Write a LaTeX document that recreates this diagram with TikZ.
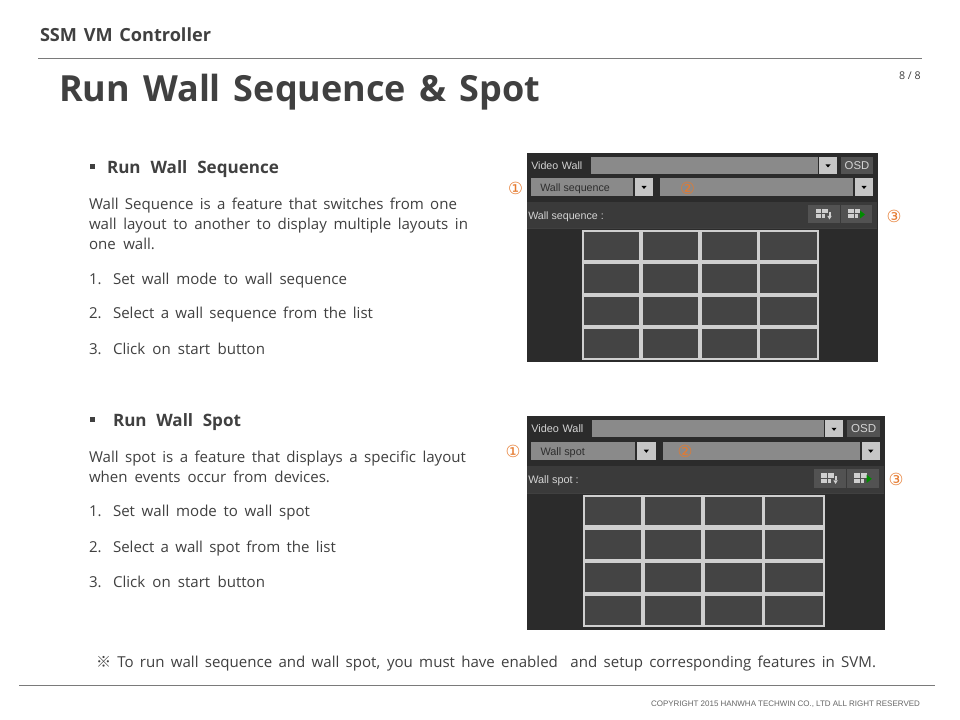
\documentclass[tikz,border=0pt]{standalone}
\usepackage{fontspec}
\setmainfont{Open Sans}
\newfontfamily\symfont{DejaVu Sans}
\newfontfamily\cjkfont{Noto Sans CJK KR}
\newfontfamily\smallfont{Liberation Sans}
\definecolor{ink}{HTML}{404040}
\definecolor{rulec}{HTML}{7A7A7A}
\definecolor{mark}{HTML}{E67A2E}
\definecolor{uipanel}{HTML}{2B2B2B}
\definecolor{uibar}{HTML}{3A3A3A}
\definecolor{uifield}{HTML}{8A8A8A}
\definecolor{uibtn}{HTML}{C6C6C6}
\definecolor{uidark}{HTML}{525252}
\definecolor{uicell}{HTML}{444444}
\definecolor{uiline}{HTML}{CFCFCF}
\definecolor{uitext}{HTML}{D4D4D4}
\tikzset{
  txt/.style={anchor=base west,inner sep=0pt,outer sep=0pt,text=ink},
  bodytxt/.style={txt,font=\fontsize{11.3pt}{13pt}\selectfont},
  headtxt/.style={txt,font=\bfseries\fontsize{12.8pt}{15pt}\selectfont},
  numbermark/.style={inner sep=0pt,text=mark,font=\symfont\fontsize{12.5pt}{14pt}\selectfont},
  uilabel/.style={anchor=base west,inner sep=0pt,transform shape,text=uitext,font=\smallfont\fontsize{8pt}{9pt}\selectfont},
  pagerule/.style={draw=rulec,line width=0.75pt},
}
\newcommand{\fitbox}[2]{\makebox[\dimexpr#1pt*3/4\relax][s]{#2}}
% name, x, baseline, width in px, text
\newcommand{\fitline}[6][bodytxt]{\node[#1] (#2) at (#3,#4) {\fitbox{#5}{#6}};}
\newcommand{\dropbtn}[4]{%
  \fill[uibtn] (#1,#3) rectangle (#2,#4);
  \fill[black] ({(#1+#2)/2-2.5},{(#3+#4)/2-1}) -- ({(#1+#2)/2+2.5},{(#3+#4)/2-1}) -- ({(#1+#2)/2},{(#3+#4)/2+2}) -- cycle;}
\newcommand{\gridicon}[2]{%
  \fill[uiline] (#1,#2) rectangle ++(5.5,4.2);
  \fill[uiline] (#1+6.5,#2) rectangle ++(5.5,4.2);
  \fill[uiline] (#1,#2+5.2) rectangle ++(5.5,4.2);
  \fill[uiline] (#1+6.5,#2+5.2) rectangle ++(3,4.2);}
% prefix, mode text, bar text
\newcommand{\uipanel}[3]{%
  \fill[uipanel] (527,153) rectangle (878,362);
  \fill[uibar] (527,202) rectangle (877,228);
  \fill[black!75] (527,228) rectangle (877,229);
  \node[uilabel] (#1video) at (531,169.5) {\fitbox{51}{Video Wall}};
  \fill[uifield] (591,157) rectangle (818,174);
  \dropbtn{819}{837}{157}{174}
  \fill[uidark] (841,157) rectangle (873,174);
  \node[uilabel,anchor=center,font=\smallfont\fontsize{8.5pt}{9pt}\selectfont] (#1osd) at (857,165.5) {OSD};
  \fill[uifield] (531,178) rectangle (633,196);
  \node[uilabel,text=black!82] (#1mode) at (540,191.5) {#2};
  \dropbtn{635}{653}{178}{196}
  \fill[uifield] (660,178) rectangle (853,196);
  \dropbtn{855}{873}{178}{196}
  \node[uilabel] (#1bar) at (528,219.5) {#3};
  \fill[uidark] (808,205) rectangle (840,223);
  \fill[uidark] (841,205) rectangle (872,223);
  \gridicon{815.5}{209}
  \fill[uiline] (828.5,212) rectangle (830.5,216);
  \fill[uiline] (827.3,216) -- (831.7,216) -- (829.5,219.5) -- cycle;
  \gridicon{848}{209}
  \fill[green!55!black] (860,210.5) -- (865,214.5) -- (860,218.5) -- cycle;
  \fill[uiline] (582,230) rectangle (819,360);
  \foreach \xa/\xb in {584.3/639,643/698,701.7/757,760.3/817}
    \foreach \ya/\yb in {232.3/260,264.3/293.3,297/325.3,329.3/357.7}
      \fill[uicell] (\xa,\ya) rectangle (\xb,\yb);
}
\begin{document}
\begin{tikzpicture}[x=0.75pt,y=-0.75pt]
\useasboundingbox (0,0) rectangle (960,720);
\fill[white] (0,0) rectangle (960,720);

\fitline[txt,font=\bfseries\fontsize{13.6pt}{15pt}\selectfont]{app}{40}{42}{171}{SSM VM Controller}
\coordinate (topl) at (38,58.5);
\coordinate (topr) at (922,58.5);
\draw[pagerule] (topl) -- (topr);
\fitline[txt,font=\bfseries\fontsize{27pt}{30pt}\selectfont]{title}{59}{102}{481}{Run Wall Sequence \& Spot}
\node[txt,font=\fontsize{8pt}{9pt}\selectfont] (page) at (899,80) {8 / 8};

% first section
\fill[ink] (90,164) rectangle (95,169);
\fitline[headtxt]{h1}{107}{174}{172}{Run Wall Sequence}
\fitline{a1}{89}{210}{368}{Wall Sequence is a feature that switches from one}
\fitline{a2}{89}{230}{379}{wall layout to another to display multiple layouts in}
\fitline{a3}{89}{250}{66}{one wall.}
\fitline{b1n}{89}{284.5}{13}{1.}
\fitline{b1}{113}{284.5}{234}{Set wall mode to wall sequence}
\fitline{b2n}{89}{319}{13}{2.}
\fitline{b2}{113}{319}{260}{Select a wall sequence from the list}
\fitline{b3n}{89}{354}{13}{3.}
\fitline{b3}{113}{354}{152}{Click on start button}

% second section
\fill[ink] (90,417) rectangle (95,422);
\fitline[headtxt]{h2}{113}{426}{128}{Run Wall Spot}
\fitline{c1}{89}{462.5}{377}{Wall spot is a feature that displays a specific layout}
\fitline{c2}{89}{482}{241}{when events occur from devices.}
\fitline{d1n}{89}{516.5}{13}{1.}
\fitline{d1}{113}{516.5}{197}{Set wall mode to wall spot}
\fitline{d2n}{89}{552.5}{13}{2.}
\fitline{d2}{113}{552.5}{223}{Select a wall spot from the list}
\fitline{d3n}{89}{587.5}{13}{3.}
\fitline{d3}{113}{587.5}{152}{Click on start button}

% screenshots
\uipanel{p}{Wall sequence}{Wall sequence :}
\begin{scope}[shift={(527,416)},xscale=1.02,yscale=1.0216,shift={(-527,-153)}]
  \uipanel{q}{Wall spot}{Wall spot :}
\end{scope}

\node[numbermark] (p1) at (515.5,188.5) {①};
\node[numbermark] (p2) at (687.5,188.5) {②};
\node[numbermark] (p3) at (894,216) {③};
\node[numbermark] (q1) at (513,451) {①};
\node[numbermark] (q2) at (685,451.5) {②};
\node[numbermark] (q3) at (896,479) {③};

\node[bodytxt] (note) at (96,667) {\fitbox{780}{{\cjkfont ※} To run wall sequence and wall spot, you must have enabled \ and setup corresponding features in SVM.}};

\coordinate (botl) at (19,685.5);
\coordinate (botr) at (935,685.5);
\draw[pagerule] (botl) -- (botr);
\node[txt,text=black!60,font=\smallfont\fontsize{6pt}{7pt}\selectfont] (copy) at (651,706) {\fitbox{269}{COPYRIGHT 2015 HANWHA TECHWIN CO., LTD ALL RIGHT RESERVED}};
\end{tikzpicture}
\end{document}
